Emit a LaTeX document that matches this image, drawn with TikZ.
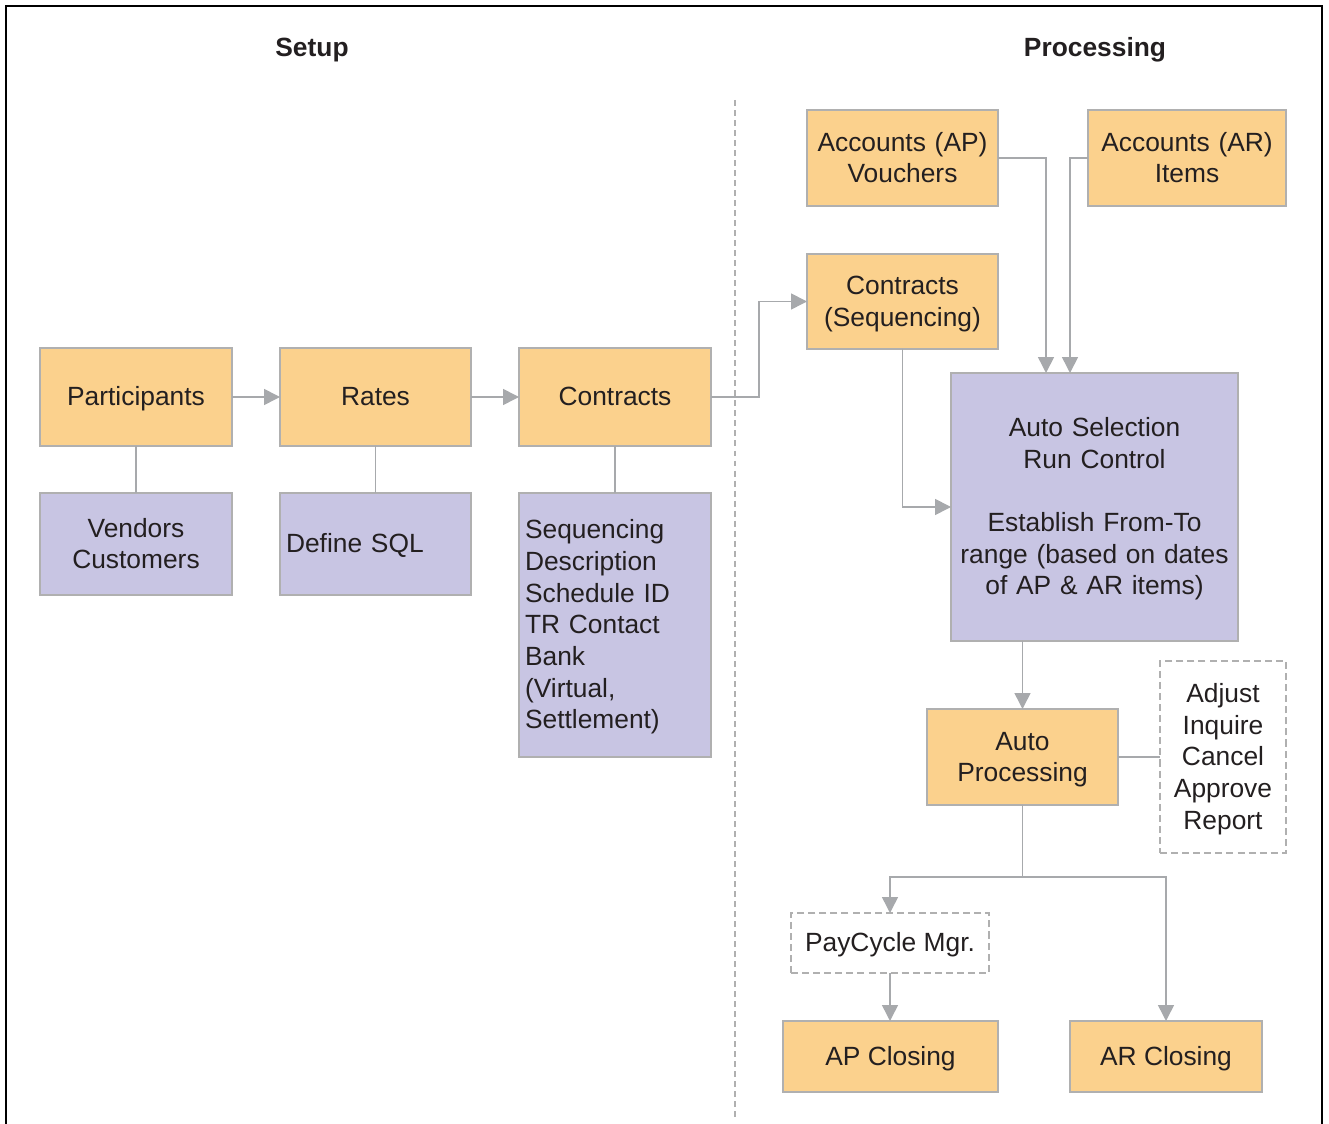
\documentclass[tikz,border=0pt]{standalone}
\usepackage{fontspec}
\setmainfont{Liberation Sans}
\usepackage{tikz}
\usetikzlibrary{arrows.meta}

\definecolor{boxorange}{HTML}{FBD18D}
\definecolor{boxpurple}{HTML}{C8C5E3}
\definecolor{edgegray}{HTML}{B0B0B0}
\definecolor{linkgray}{HTML}{A7A9AC}
\definecolor{inkdark}{HTML}{231F20}

\begin{document}
\begin{tikzpicture}[x=0.02cm, y=-0.02cm,
    every node/.style={font=\fontsize{15}{18}\selectfont, text=inkdark},
    obox/.style={draw=edgegray, line width=0.8pt, fill=boxorange, inner sep=0pt, outer sep=0pt, align=center,
        execute at begin node=\rule{0pt}{15.5pt}, execute at end node=\strut},
    pbox/.style={obox, fill=boxpurple},
    dbox/.style={obox, fill=none, dash pattern=on 4pt off 2.3pt},
    link/.style={draw=linkgray, line width=0.85pt},
    arr/.style={link, -{Triangle[length=9pt,width=9pt]}}]
        \useasboundingbox (0,0) rectangle (1329,1124);
        \draw[line width=1.2pt] (6,1124) -- (6,6) -- (1322,6) -- (1322,1124);
        \draw[edgegray, line width=0.8pt, dash pattern=on 3.4pt off 2.3pt] (735,100) -- (735,1118);

        \node[font=\fontsize{15}{18}\selectfont\bfseries, anchor=base] (setup) at (312,57) {Setup};
        \node[font=\fontsize{15}{18}\selectfont\bfseries, anchor=base] (proc) at (1095,57) {Processing};

        % setup side
        \node[obox, minimum width=3.84cm, minimum height=1.96cm] (part) at (136,397) {Participants};
        \node[obox, minimum width=3.82cm, minimum height=1.96cm] (rates) at (375.5,397) {Rates};
        \node[obox, minimum width=3.84cm, minimum height=1.96cm] (contr) at (615,397) {Contracts};
        \node[pbox, minimum width=3.84cm, minimum height=2.04cm, text width=3.6cm] (vend) at (136,544) {Vendors\\Customers};
        \node[pbox, minimum width=3.82cm, minimum height=2.04cm, text width=3.58cm, inner xsep=0.12cm, align=left] (sql) at (375.5,544) {Define SQL};
        \node[pbox, minimum width=3.84cm, minimum height=5.28cm, text width=3.6cm, inner xsep=0.12cm, align=left] (seqd) at (615,625) {Sequencing\\Description\\Schedule ID\\TR Contact\\Bank\\(Virtual,\\Settlement)};

        % processing side
        \node[obox, minimum width=3.82cm, minimum height=1.92cm, text width=3.6cm] (apv) at (902.5,158) {Accounts (AP)\\Vouchers};
        \node[obox, minimum width=3.96cm, minimum height=1.92cm, text width=3.7cm] (arv) at (1187,158) {Accounts (AR)\\Items};
        \node[obox, minimum width=3.82cm, minimum height=1.9cm, text width=3.6cm] (cseq) at (902.5,301.5) {Contracts\\(Sequencing)};
        \node[pbox, minimum width=5.74cm, minimum height=5.36cm, text width=5.5cm] (auto) at (1094.5,507) {Auto Selection\\Run Control\\[18pt]Establish From-To\\range (based on dates\\of AP \& AR items)};
        \node[obox, minimum width=3.82cm, minimum height=1.92cm, text width=3.6cm] (autop) at (1022.5,757) {Auto\\Processing};
        \node[dbox, minimum width=2.52cm, minimum height=3.84cm, text width=2.3cm] (adj) at (1223,757) {Adjust\\Inquire\\Cancel\\Approve\\Report};
        \node[dbox, minimum width=3.96cm, minimum height=1.2cm] (pay) at (890,943) {PayCycle Mgr.};
        \node[obox, minimum width=4.3cm, minimum height=1.42cm] (apc) at (890.5,1056.5) {AP Closing};
        \node[obox, minimum width=3.84cm, minimum height=1.42cm] (arc) at (1166,1056.5) {AR Closing};

        % connectors
        \draw[arr] (part) -- (rates);
        \draw[arr] (rates) -- (contr);
        \draw[link] (part) -- (vend);
        \draw[link] (rates) -- (rates |- sql.north);
        \draw[link] (contr) -- (seqd);
        \draw[arr] (contr.east) -- ++(48,0) |- (cseq.west);
        \draw[arr] (apv.east) -| ([xshift=1.9cm]auto.north west);
        \draw[arr] (arv.west) -| ([xshift=2.38cm]auto.north west);
        \draw[arr] (cseq.south) |- (auto.west);
        \draw[arr] (autop.north |- auto.south) -- (autop.north);
        \draw[link] (autop.east) -- (adj.west);
        \coordinate (split) at ([yshift=-1.44cm]autop.south);
        \draw[arr] (autop.south) -- (split) -| (pay.north);
        \draw[arr] (split) -| (arc.north);
        \draw[arr] (pay.south) -- (apc.north -| pay.south);
\end{tikzpicture}
\end{document}
